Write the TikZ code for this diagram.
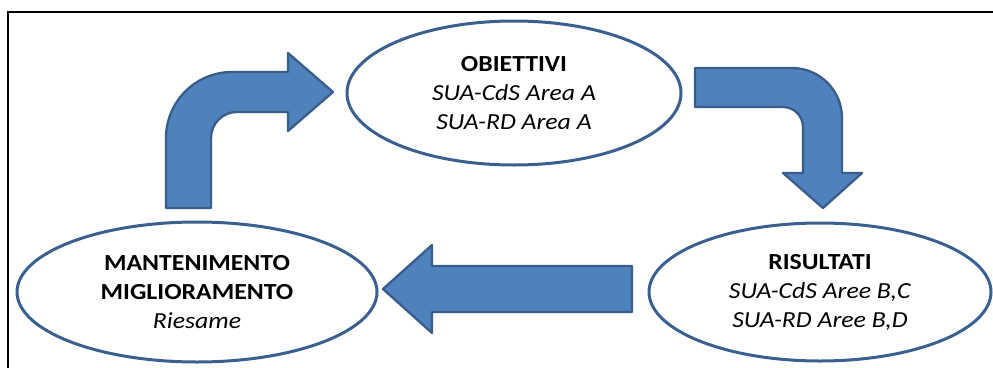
\documentclass[tikz,border=0pt]{standalone}
\usepackage{fontspec}
\setmainfont{Carlito}[FakeStretch=1.12]
\usetikzlibrary{shapes.geometric}
\definecolor{arrowfill}{HTML}{4F81BD}
\definecolor{arrowline}{HTML}{385D8A}
\definecolor{ellline}{HTML}{3B6090}
\begin{document}
\begin{tikzpicture}[x=1pt,y=-1pt,
  ell/.style={ellipse, draw=ellline, line width=3pt, fill=white, inner sep=0pt,
    align=center, font=\fontsize{23}{29}\selectfont},
  blockarrow/.style={fill=arrowfill, draw=arrowline, line width=2.3pt, line join=round},
  frameline/.style={draw=black, line width=2.8pt}]
\useasboundingbox (0,0) rectangle (993,367);
\clip (0,0) rectangle (993,367);
% frame
\draw[frameline] (1000,12) -- (8,12) -- (8,380);
% ellipses
\node[ell, minimum width=334pt, minimum height=144pt] (obj) at (514,93)
  {\textbf{OBIETTIVI}\\ \textit{SUA-CdS Area A}\\ \textit{SUA-RD Area A}};
\node[ell, minimum width=342pt, minimum height=138pt] (ris) at (820,292)
  {\textbf{RISULTATI}\\ \textit{SUA-CdS Aree B,C}\\ \textit{SUA-RD Aree B,D}};
\node[ell, minimum width=360pt, minimum height=140pt] (man) at (197,292)
  {\textbf{MANTENIMENTO}\\ \textbf{MIGLIORAMENTO}\\ \textit{Riesame}};
% bent arrow up-right
\draw[blockarrow] (166,208) -- (166,138) .. controls (166,101.6) and (195.6,72) .. (232,72)
  -- (288,72) -- (288,53) -- (333,92) -- (288,131) -- (288,112) -- (237,112)
  .. controls (222.6,112) and (211,123.6) .. (211,138) -- (211,208) -- cycle;
% bent arrow right-down
\draw[blockarrow] (695,68) -- (792,68) .. controls (819.6,68) and (842,90.4) .. (842,118)
  -- (842,173) -- (862,173) -- (823,208) -- (783,173) -- (803,173) -- (803,127)
  .. controls (803,116) and (794,107) .. (783,107) -- (695,107) -- cycle;
% straight arrow left
\draw[blockarrow] (632,266) -- (432,266) -- (432,245) -- (383,289) -- (432,333)
  -- (432,312) -- (632,312) -- cycle;
\end{tikzpicture}
\end{document}
